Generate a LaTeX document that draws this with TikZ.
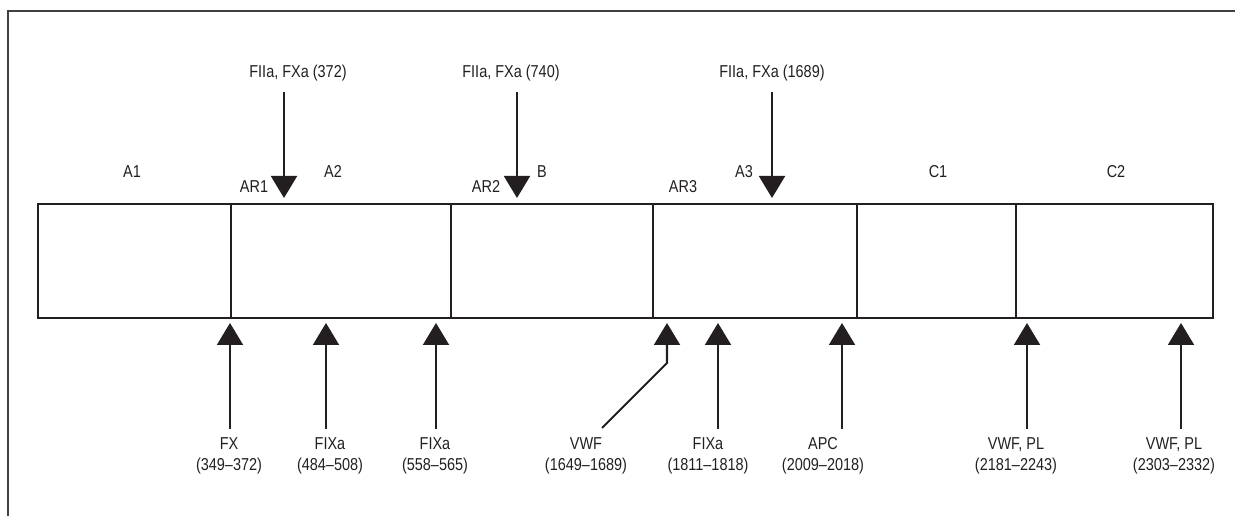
\documentclass[tikz,border=0pt]{standalone}
\usepackage{fontspec}
\setmainfont{Liberation Sans}[FakeStretch=0.84]
\usetikzlibrary{arrows.meta,calc}
\definecolor{ink}{HTML}{231F20}

\begin{document}
\begin{tikzpicture}[x=0.02cm,y=-0.02cm,
  every node/.style={inner sep=0pt,text=ink,font=\fontsize{9.8}{12}\selectfont},
  box/.style={draw=ink,line width=1.2pt},
  arr/.style={draw=ink,line width=1.15pt,-{Triangle[width=0.52cm,length=0.44cm]}},
  lbl/.style={anchor=base},
  site/.style={anchor=north,align=center}]
  \useasboundingbox (0,0) rectangle (1235,516);
  \draw[black!75,line width=0.6pt] (1235,11) -- (8,11) -- (8,516);
  % the protein, cut into domains
  \draw[box] (38,204) rectangle (1213,318);
  \draw[box] (231,204) -- (231,318);
  \draw[box] (451,204) -- (451,318);
  \draw[box] (653,204) -- (653,318);
  \draw[box] (857,204) -- (857,318);
  \draw[box] (1016,204) -- (1016,318);
  \node[lbl] (dA1) at (132,178) {A1};
  \node[lbl] (dA2) at (333,178) {A2};
  \node[lbl] (dB) at (542,178) {B};
  \node[lbl] (dA3) at (744,178) {A3};
  \node[lbl] (dC1) at (938,178) {C1};
  \node[lbl] (dC2) at (1116,178) {C2};
  \node[lbl] (dAR1) at (254,193) {AR1};
  \node[lbl] (dAR2) at (486,193) {AR2};
  \node[lbl] (dAR3) at (683,193) {AR3};
  % cleavage by thrombin and FXa
  \node[lbl] (cut1) at (298,78) {FIIa, FXa (372)};
  \node[lbl] (cut2) at (511,78) {FIIa, FXa (740)};
  \node[lbl] (cut3) at (772,78) {FIIa, FXa (1689)};
  \coordinate (tcut1) at (284,198);
  \coordinate (tcut2) at (517,198);
  \coordinate (tcut3) at (772,198);
  \draw[arr] ($(tcut1 |- cut1.south)+(0,10)$) -- (tcut1);
  \draw[arr] ($(tcut2 |- cut2.south)+(0,10)$) -- (tcut2);
  \draw[arr] ($(tcut3 |- cut3.south)+(0,10)$) -- (tcut3);
  % binding sites
  \node[site] (sFX) at (229,437) {FX\\(349--372)};
  \node[site] (sFIXa1) at (330,437) {FIXa\\(484--508)};
  \node[site] (sFIXa2) at (435,437) {FIXa\\(558--565)};
  \node[site] (sVWF) at (586,437) {VWF\\(1649--1689)};
  \node[site] (sFIXa3) at (708,437) {FIXa\\(1811--1818)};
  \node[site] (sAPC) at (823,437) {APC\\(2009--2018)};
  \node[site] (sPL1) at (1016,437) {VWF, PL\\(2181--2243)};
  \node[site] (sPL2) at (1174,437) {VWF, PL\\(2303--2332)};
  \coordinate (bFX) at (230,323);
  \coordinate (bFIXa1) at (326,323);
  \coordinate (bFIXa2) at (436,323);
  \coordinate (bVWF) at (667,323);
  \coordinate (bFIXa3) at (718,323);
  \coordinate (bAPC) at (842,323);
  \coordinate (bPL1) at (1027,323);
  \coordinate (bPL2) at (1181,323);
  \draw[arr] ($(bFX |- sFX.north)+(0,-8)$) -- (bFX);
  \draw[arr] ($(bFIXa1 |- sFIXa1.north)+(0,-8)$) -- (bFIXa1);
  \draw[arr] ($(bFIXa2 |- sFIXa2.north)+(0,-8)$) -- (bFIXa2);
  \draw[arr] ($(sVWF.north)+(16,-9)$) -- ($(bVWF)+(0,40)$) -- (bVWF);
  \draw[arr] ($(bFIXa3 |- sFIXa3.north)+(0,-8)$) -- (bFIXa3);
  \draw[arr] ($(bAPC |- sAPC.north)+(0,-8)$) -- (bAPC);
  \draw[arr] ($(bPL1 |- sPL1.north)+(0,-8)$) -- (bPL1);
  \draw[arr] ($(bPL2 |- sPL2.north)+(0,-8)$) -- (bPL2);
\end{tikzpicture}
\end{document}
